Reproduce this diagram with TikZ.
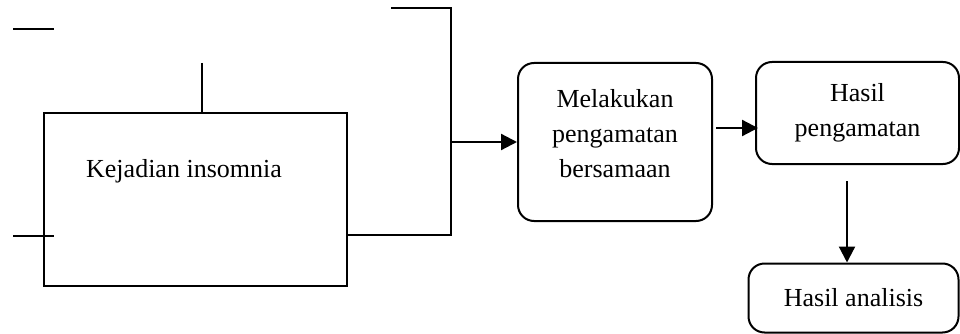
\documentclass[tikz,border=0pt]{standalone}
\usepackage{fontspec}
\setmainfont{Liberation Serif}
\usetikzlibrary{arrows.meta}
\tikzstyle{box} = [rectangle, draw=black, line width=2pt]
\tikzstyle{roundbox} = [rectangle, rounded corners=16pt, draw=black, line width=2pt, align=center]
\tikzstyle{line} = [line width=2pt]
\tikzstyle{arrow} = [line width=2.2pt, -{Triangle[length=16pt, width=16pt]}]

\begin{document}
\begin{tikzpicture}[x=1pt, y=-1pt, font=\fontsize{26}{35}\selectfont]
\useasboundingbox (0,0) rectangle (960,334);

\node (kej) [box, minimum width=303pt, minimum height=173pt] at (195.5,199.5) {};
\node (kejtxt) at (184,171) {Kejadian insomnia};
\node (pro1) [roundbox, minimum width=194pt, minimum height=158pt] at (615,142) {};
\node (pro1txt) [align=center] at (615,134) {Melakukan\\pengamatan\\bersamaan};
\node (pro2) [roundbox, minimum width=203pt, minimum height=102pt] at (857.5,113) {Hasil\\pengamatan};
\node (pro3) [roundbox, minimum width=210pt, minimum height=69pt] at (853.5,298) {Hasil analisis};

% loose ends
\coordinate (a1) at (13,29);
\coordinate (a2) at (54,29);
\coordinate (b1) at (13,236);
\coordinate (b2) at (54,236);
\coordinate (t1) at (202,63);
\coordinate (j1) at (451,235);
\coordinate (j2) at (451,8);
\coordinate (j3) at (391,8);
\coordinate (h1) at (847,181);

\draw [line] (a1) -- (a2);
\draw [line] (b1) -- (b2);
\draw [line] (t1) -- (t1 |- kej.north);
\draw [line] (kej.east |- j1) -- (j1) -- (j2) -- (j3);

\draw [arrow] (j1 |- pro1) -- (pro1.west);
\draw [arrow] ([xshift=3pt, yshift=14pt]pro1.east) -- ([xshift=3pt, yshift=14pt]pro1.east -| pro2.west);
\draw [arrow] (h1) -- (h1 |- pro3.north);
\end{tikzpicture}
\end{document}
